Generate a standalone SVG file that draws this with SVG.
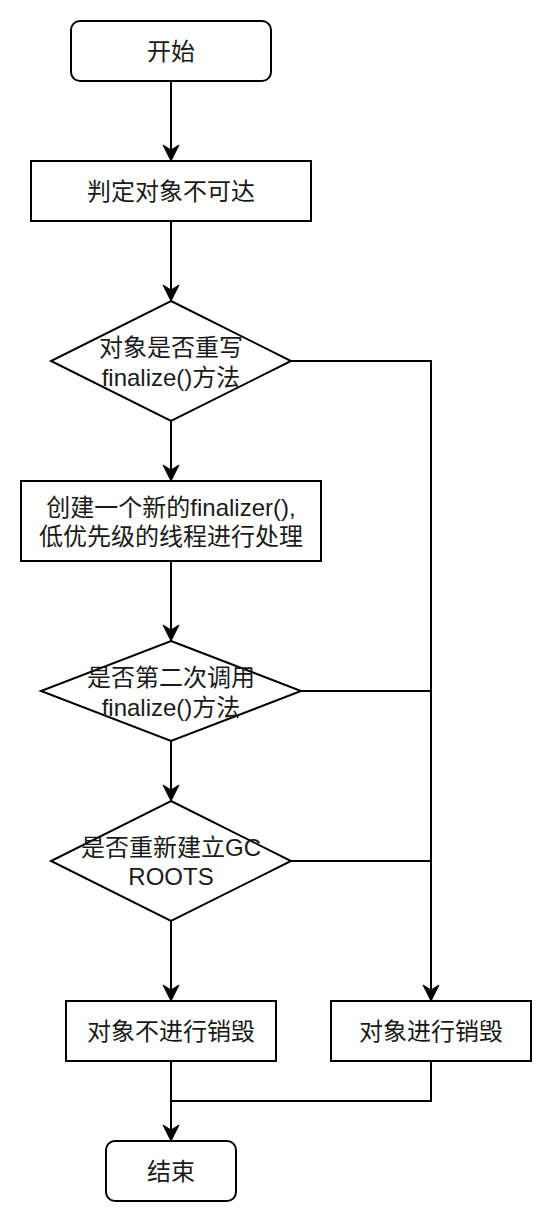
<svg xmlns="http://www.w3.org/2000/svg" width="552" height="1222" viewBox="0 0 552 1222">
<style>
.s{fill:#fff;stroke:#000;stroke-width:2}
.t{font-family:"Liberation Sans","Noto Sans CJK SC",sans-serif;font-size:24px;fill:#1a1a1a;text-anchor:middle;dominant-baseline:central}
.c{fill:none;stroke:#000;stroke-width:2}
</style>
<defs>
<marker id="arr" viewBox="-8 -9 20 18" markerWidth="20" markerHeight="18" refX="0" refY="0" markerUnits="userSpaceOnUse" orient="auto">
<path d="M10,0 L-6,-8 L-1,0 L-6,8 Z" fill="#000" stroke="#000" stroke-width="1"/>
</marker>
</defs>
<rect width="552" height="1222" fill="#fff"/>
<g id="connectors">
<path class="c" d="M171,81 V151" marker-end="url(#arr)"/>
<path class="c" d="M171,221 V291" marker-end="url(#arr)"/>
<path class="c" d="M171,421 V471" marker-end="url(#arr)"/>
<path class="c" d="M171,561 V631" marker-end="url(#arr)"/>
<path class="c" d="M171,741 V791" marker-end="url(#arr)"/>
<path class="c" d="M171,921 V991" marker-end="url(#arr)"/>
<path class="c" d="M291,361 H431 V991" marker-end="url(#arr)"/>
<path class="c" d="M301,691 H431"/>
<path class="c" d="M291,861 H431"/>
<path class="c" d="M171,1061 V1131" marker-end="url(#arr)"/>
<path class="c" d="M431,1061 V1101 H171"/>
</g>
<g id="start">
<rect class="s" x="71" y="21" width="200" height="60" rx="9"/>
<text class="t" x="171" y="51">开始</text>
</g>
<g id="unreachable">
<rect class="s" x="31" y="161" width="280" height="60"/>
<text class="t" x="171" y="191">判定对象不可达</text>
</g>
<g id="override">
<path class="s" d="M171,301 L291,361 L171,421 L51,361 Z"/>
<text class="t" x="171" y="347">对象是否重写</text>
<text class="t" x="171" y="377">finalize()方法</text>
</g>
<g id="finalizer">
<rect class="s" x="21" y="481" width="300" height="80"/>
<text class="t" x="171" y="507">创建一个新的finalizer(),</text>
<text class="t" x="171" y="536">低优先级的线程进行处理</text>
</g>
<g id="second">
<path class="s" d="M171,641 L301,691 L171,741 L41,691 Z"/>
<text class="t" x="171" y="677">是否第二次调用</text>
<text class="t" x="171" y="707">finalize()方法</text>
</g>
<g id="gcroots">
<path class="s" d="M171,801 L291,861 L171,921 L51,861 Z"/>
<text class="t" x="171" y="847">是否重新建立GC</text>
<text class="t" x="171" y="876">ROOTS</text>
</g>
<g id="keep">
<rect class="s" x="66" y="1001" width="210" height="60"/>
<text class="t" x="171" y="1031">对象不进行销毁</text>
</g>
<g id="destroy">
<rect class="s" x="331" y="1001" width="200" height="60"/>
<text class="t" x="431" y="1031">对象进行销毁</text>
</g>
<g id="end">
<rect class="s" x="106" y="1141" width="130" height="60" rx="9"/>
<text class="t" x="171" y="1171">结束</text>
</g>
</svg>
